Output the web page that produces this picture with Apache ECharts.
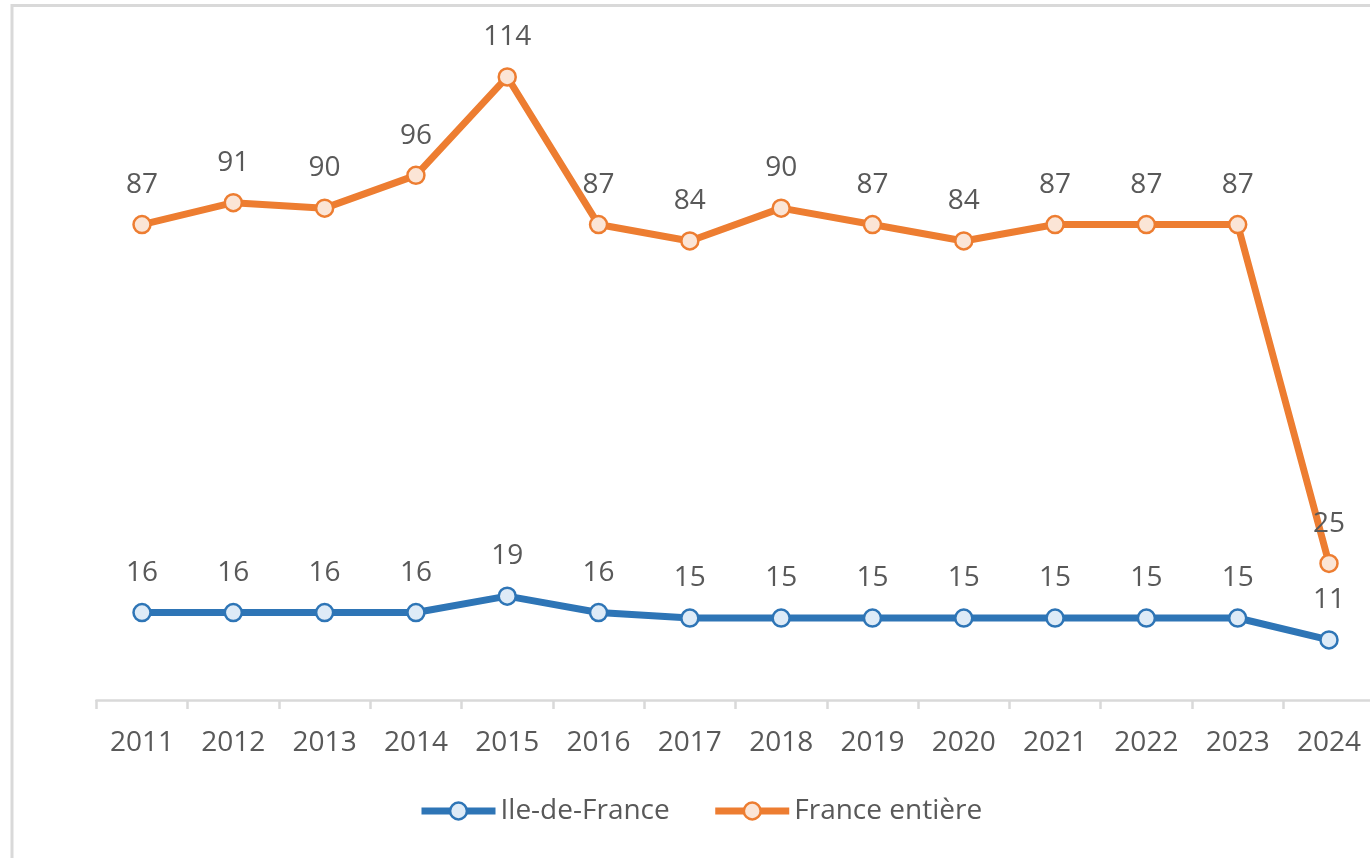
<!DOCTYPE html>
<html>
<head>
<meta charset="utf-8">
<script src="https://cdn.jsdelivr.net/npm/echarts@6/dist/echarts.min.js"></script>
<style>
html,body{margin:0;padding:0;background:#fff;overflow:hidden;}
#chart{width:1380px;height:858px;}
</style>
</head>
<body>
<div id="chart"></div>
<script>
const years = ['2011','2012','2013','2014','2015','2016','2017','2018','2019','2020','2021','2022','2023','2024'];
const ileDeFrance = [16,16,16,16,19,16,15,15,15,15,15,15,15,11];
const franceEntiere = [87,91,90,96,114,87,84,90,87,84,87,87,87,25];
const seriesNames = ['Ile-de-France','France entière'];

const FONT = '"Open Sans", "Noto Sans", sans-serif';
const TXT = '#595959';
const chart = echarts.init(document.getElementById('chart'), null, {renderer:'canvas'});

function mkSeries(name, data, color, fill){
  return {
    name: name,
    type: 'line',
    data: data,
    symbol: 'circle',
    symbolSize: 17,
    showAllSymbol: true,
    lineStyle: {color: color, width: 7},
    itemStyle: {color: fill, borderColor: color, borderWidth: 2.5},
    label: {
      show: true,
      position: 'top',
      distance: 16,
      color: TXT,
      fontFamily: FONT,
      fontSize: 28
    },
    emphasis: {disabled: true},
    animation: false
  };
}

chart.setOption({
  backgroundColor: '#fff',
  animation: false,
  graphic: [{
    type: 'rect',
    shape: {x: 12, y: 5.5, width: 1500, height: 1000},
    style: {fill: 'none', stroke: '#d9d9d9', lineWidth: 3},
    silent: true
  }],
  grid: {left: 96.35, top: 44.2, width: 1278.3, height: 655.8, containLabel: false},
  xAxis: {
    type: 'category',
    data: years,
    boundaryGap: true,
    axisLine: {show: true, lineStyle: {color: '#d9d9d9', width: 2.5}},
    axisTick: {show: true, alignWithLabel: false, length: 9, lineStyle: {color: '#d9d9d9', width: 2.5}},
    axisLabel: {color: TXT, fontFamily: FONT, fontSize: 28, margin: 29, interval: 0},
    splitLine: {show: false}
  },
  yAxis: {
    type: 'value',
    min: 0,
    max: 120,
    show: false,
    splitLine: {show: false}
  },
  legend: {
    left: 413,
    top: 792,
    itemWidth: 74,
    itemHeight: 21,
    itemGap: 42,
    lineStyle: {width: 7},
    itemStyle: {borderWidth: 2.5},
    textStyle: {color: TXT, fontFamily: FONT, fontSize: 28, padding: [0,0,0,0]},
    data: seriesNames
  },
  series: [
    mkSeries(seriesNames[0], ileDeFrance, '#2e75b6', '#deebf7'),
    mkSeries(seriesNames[1], franceEntiere, '#ed7d31', '#fbe5d6')
  ]
});
</script>
</body>
</html>
